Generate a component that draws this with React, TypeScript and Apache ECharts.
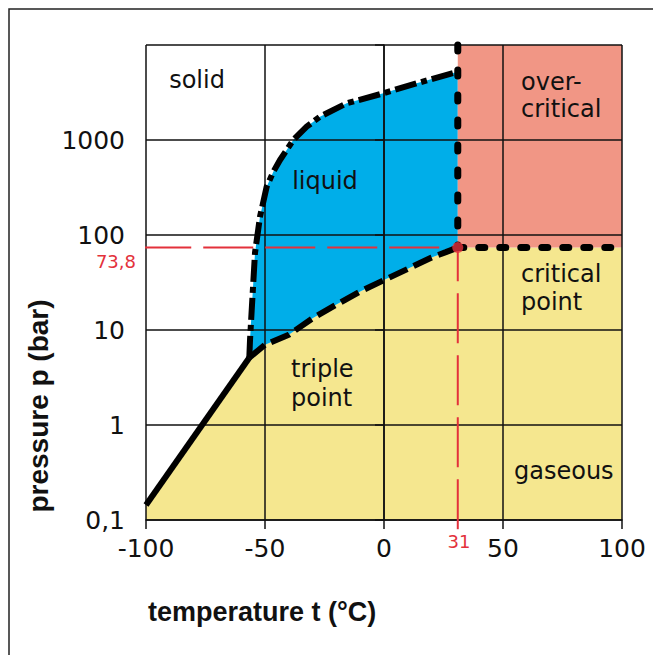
import React, { useEffect, useRef } from "react";
import * as echarts from "echarts";

// ---- data (temperature °C, pressure bar) ----
const xTickValues = [-100, -50, 0, 50, 100];
const yTickLabels = ["0,1", "1", "10", "100", "1000", ""];
const triplePoint = [-56.6, 5.1];
const criticalPoint = [31, 73.8];
const sublimationCurve = [
  [-100, 0.144],
  [-56.6, 5.1],
];
const vaporizationCurve = [
  [-56.6, 5.1],
  [-50, 7.0],
  [-40, 8.9],
  [-30, 13.3],
  [-20, 18.5],
  [-10, 25.5],
  [0, 33.5],
  [10, 44],
  [20, 58],
  [26, 66],
  [31, 73.8],
];
const meltingCurve = [
  [-56.6, 5.1],
  [-56.3, 7.8],
  [-55.6, 16],
  [-54.2, 65],
  [-52.1, 156],
  [-49.3, 322],
  [-46.5, 463],
  [-43.7, 616],
  [-38.1, 1000],
  [-32.5, 1380],
  [-26.9, 1760],
  [-15.7, 2430],
  [-0.3, 3100],
  [13.7, 3950],
  [31, 5240],
];
const tMin = -100;
const tMax = 100;
const pMin = 0.1;
const pMax = 10000;
const redLineStartT = -102;
const redLineEndP = 0.08;

const regionNames = ["gaseous", "liquid", "overcritical"];
const regionColors = ["#f5e78f", "#00aee9", "#f19685"];

const gasPolygon = [
  [tMin, pMin],
  ...sublimationCurve,
  ...vaporizationCurve.slice(1),
  [tMax, criticalPoint[1]],
  [tMax, pMin],
];
const liquidPolygon = [
  ...meltingCurve,
  [criticalPoint[0], criticalPoint[1]],
  ...vaporizationCurve.slice(0, -1).reverse(),
];
const overPolygon = [
  [criticalPoint[0], criticalPoint[1]],
  [criticalPoint[0], pMax],
  [tMax, pMax],
  [tMax, criticalPoint[1]],
];
const regionPolygons = [gasPolygon, liquidPolygon, overPolygon];

const RED = "#e3313b";
const INK = "#111111";
const LABEL_FONT = "DejaVu Sans";
const TITLE_FONT = "Liberation Sans";

export default function App() {
  const ref = useRef<HTMLDivElement>(null);
  useEffect(() => {
    const chart = echarts.init(ref.current!, null, { renderer: "svg" });
    const option: any = {
      animation: false,
      backgroundColor: "#ffffff",
      grid: { left: 146, right: 31, top: 45, bottom: 135, containLabel: false },
      xAxis: {
        type: "value",
        min: tMin,
        max: tMax,
        interval: 50,
        axisLine: { show: true, lineStyle: { color: INK, width: 1.5 } },
        axisTick: { show: true, length: 9, lineStyle: { color: INK, width: 1.5 } },
        splitLine: { show: true, lineStyle: { color: INK, width: 1.5 } },
        axisLabel: {
          fontFamily: LABEL_FONT,
          fontSize: 25,
          color: INK,
          margin: 16,
          showMinLabel: true,
          showMaxLabel: true,
          formatter: (v: number) => {
            const i = xTickValues.indexOf(Math.round(v));
            return i >= 0 ? String(xTickValues[i]) : "";
          },
        },
      },
      yAxis: {
        type: "log",
        logBase: 10,
        min: pMin,
        max: pMax,
        axisLine: { show: true, lineStyle: { color: INK, width: 1.5 } },
        axisTick: { show: true, length: 9, lineStyle: { color: INK, width: 1.5 } },
        splitLine: { show: true, lineStyle: { color: INK, width: 1.5 } },
        axisLabel: {
          fontFamily: LABEL_FONT,
          fontSize: 25,
          color: INK,
          margin: 21,
          showMinLabel: true,
          showMaxLabel: true,
          formatter: (v: number) => {
            const e = Math.round(Math.log10(v));
            return yTickLabels[e + 1] ?? "";
          },
        },
      },
      series: [
        {
          type: "custom",
          z: -1,
          silent: true,
          data: regionNames.map((n) => ({ name: n, value: [0, 1] })),
          renderItem: (params: any, api: any) => {
            const poly = regionPolygons[params.dataIndex];
            return {
              type: "polygon",
              shape: { points: poly.map((p) => api.coord(p)) },
              style: { fill: regionColors[params.dataIndex], stroke: null },
            };
          },
        },
        {
          type: "line",
          silent: true,
          clip: false,
          symbol: "none",
          z: 3,
          data: [
            [redLineStartT, criticalPoint[1]],
            criticalPoint,
          ],
          lineStyle: { color: RED, width: 2, type: [50, 12] },
        },
        {
          type: "line",
          silent: true,
          clip: false,
          symbol: "none",
          z: 3,
          data: [[criticalPoint[0], redLineEndP], criticalPoint],
          lineStyle: { color: RED, width: 2, type: [50, 12] },
        },
        {
          type: "line",
          silent: true,
          symbol: "none",
          z: 5,
          data: sublimationCurve,
          lineStyle: { color: "#000", width: 6, cap: "butt" },
        },
        {
          type: "line",
          silent: true,
          symbol: "none",
          z: 5,
          data: vaporizationCurve,
          lineStyle: { color: "#000", width: 6, type: [20, 7], cap: "butt" },
        },
        {
          type: "line",
          silent: true,
          symbol: "none",
          z: 5,
          data: meltingCurve,
          lineStyle: { color: "#000", width: 6, type: [22, 5, 6, 5], cap: "butt" },
        },
        {
          type: "line",
          silent: true,
          clip: false,
          symbol: "none",
          z: 5,
          data: [
            [criticalPoint[0], pMax],
            criticalPoint,
          ],
          lineStyle: { color: "#000", width: 7, type: [6, 19], cap: "round" },
        },
        {
          type: "line",
          silent: true,
          clip: false,
          symbol: "none",
          z: 5,
          data: [criticalPoint, [tMax, criticalPoint[1]]],
          lineStyle: { color: "#000", width: 7, type: [6, 15], cap: "round" },
        },
        {
          type: "scatter",
          silent: true,
          z: 8,
          symbol: "circle",
          symbolSize: 11,
          data: [criticalPoint],
          itemStyle: { color: RED },
        },
        {
          type: "scatter",
          silent: true,
          z: 8,
          symbolSize: 0,
          data: [triplePoint],
          itemStyle: { color: "transparent" },
        },
      ],
      graphic: [
        {
          type: "rect",
          z: -10,
          silent: true,
          shape: { x: 9, y: 9, width: 700, height: 700 },
          style: { fill: "none", stroke: "#222", lineWidth: 1.5 },
        },
        {
          type: "text",
          x: 197,
          y: 80,
          style: { text: "solid", fontFamily: LABEL_FONT, fontSize: 24, fill: INK, align: "center", verticalAlign: "middle" },
        },
        {
          type: "text",
          x: 325,
          y: 181,
          style: { text: "liquid", fontFamily: LABEL_FONT, fontSize: 24, fill: INK, align: "center", verticalAlign: "middle" },
        },
        {
          type: "text",
          x: 521,
          y: 95.5,
          style: { text: "over-\ncritical", fontFamily: LABEL_FONT, fontSize: 24, lineHeight: 27, fill: INK, align: "left", verticalAlign: "middle" },
        },
        {
          type: "text",
          x: 521,
          y: 288,
          style: { text: "critical\npoint", fontFamily: LABEL_FONT, fontSize: 24, lineHeight: 28, fill: INK, align: "left", verticalAlign: "middle" },
        },
        {
          type: "text",
          x: 291,
          y: 383.5,
          style: { text: "triple\npoint", fontFamily: LABEL_FONT, fontSize: 24, lineHeight: 29, fill: INK, align: "left", verticalAlign: "middle" },
        },
        {
          type: "text",
          x: 514,
          y: 471,
          style: { text: "gaseous", fontFamily: LABEL_FONT, fontSize: 24, fill: INK, align: "left", verticalAlign: "middle" },
        },
        {
          type: "text",
          x: 136,
          y: 261,
          style: { text: "73,8", fontFamily: LABEL_FONT, fontSize: 18, fill: RED, align: "right", verticalAlign: "middle" },
        },
        {
          type: "text",
          x: 459,
          y: 541,
          style: { text: "31", fontFamily: LABEL_FONT, fontSize: 18, fill: RED, align: "center", verticalAlign: "middle" },
        },
        {
          type: "text",
          x: 148,
          y: 612,
          style: { text: "temperature t (°C)", fontFamily: TITLE_FONT, fontWeight: "bold", fontSize: 27, fill: INK, align: "left", verticalAlign: "middle" },
        },
        {
          type: "text",
          x: 38,
          y: 406,
          rotation: Math.PI / 2,
          style: { text: "pressure p (bar)", fontFamily: TITLE_FONT, fontWeight: "bold", fontSize: 28, fill: INK, align: "center", verticalAlign: "middle" },
        },
      ],
    };
    chart.setOption(option);
    return () => chart.dispose();
  }, []);
  return (
    <div
      ref={ref}
      style={{ position: "fixed", left: 0, top: 0, width: 653, height: 655, background: "#fff" }}
    />
  );
}
